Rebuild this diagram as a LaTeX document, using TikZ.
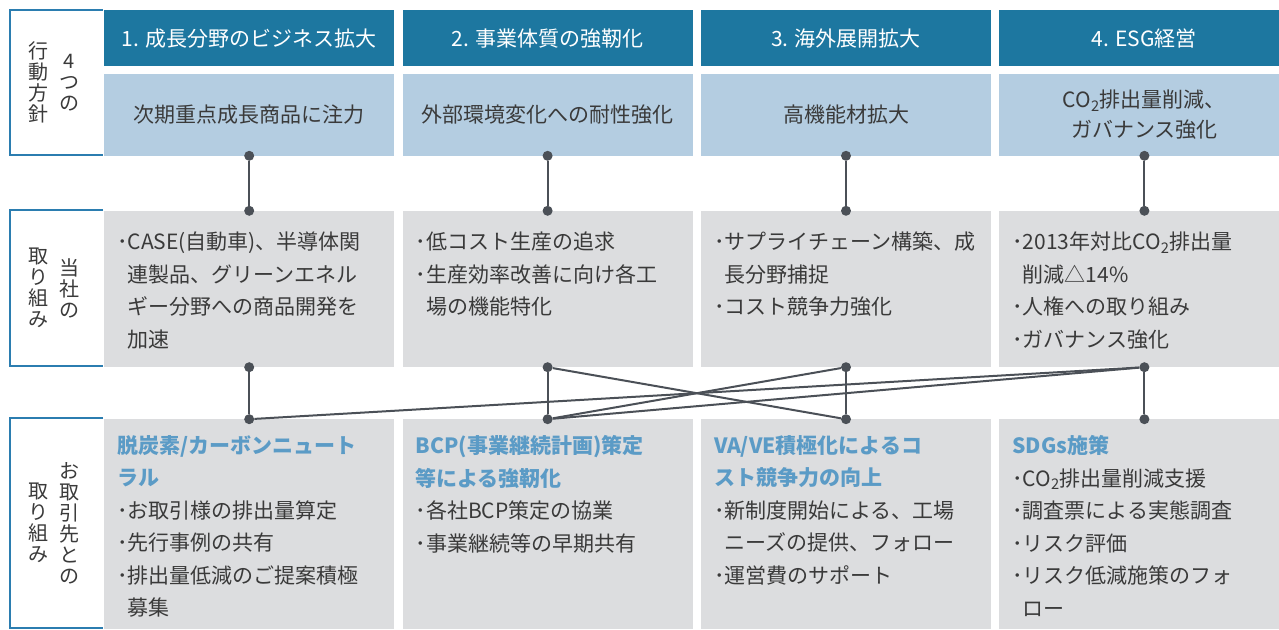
\documentclass[tikz,border=0pt]{standalone}
\usepackage{fontspec}
\setmainfont{Noto Sans CJK JP}
\usepackage{xcolor}
\usetikzlibrary{positioning}

\definecolor{headblue}{HTML}{1D77A0}
\definecolor{paleblue}{HTML}{B4CDE1}
\definecolor{panelgray}{HTML}{DCDDDF}
\definecolor{tagblue}{HTML}{2B7DB0}
\definecolor{titleblue}{HTML}{5B9BC6}
\definecolor{linkgray}{HTML}{4B5057}
\definecolor{inkgray}{HTML}{3A3A3A}

\newcommand{\bul}{\makebox[10.5bp][l]{･}}
\newcommand{\cont}{\hspace*{10.5bp}}
\newcommand{\goal}[1]{{\bfseries\color{titleblue}#1}}

\begin{document}
\begin{tikzpicture}[x=1bp, y=-1bp,
    node distance=7bp and 8bp,
    head/.style={fill=headblue, text=white, minimum width=290bp, minimum height=56bp, inner sep=0pt, font=\fontsize{21bp}{25bp}\selectfont},
    policy/.style={fill=paleblue, text=inkgray, minimum width=290bp, minimum height=82bp, inner sep=0pt, align=center, font=\fontsize{21bp}{30bp}\selectfont},
    plan/.style={fill=panelgray, minimum width=290bp, minimum height=156bp, inner sep=0pt},
    partner/.style={fill=panelgray, minimum width=290bp, minimum height=210bp, inner sep=0pt},
    body/.style={anchor=north west, inner sep=0pt, align=left, text=inkgray, font=\fontsize{21bp}{32.5bp}\selectfont},
    tag/.style={minimum width=93bp, inner sep=0pt, anchor=north east},
    tagline/.style={draw=tagblue, line width=2bp},
    vtext/.style={inner sep=0pt, align=center, text=inkgray, font=\fontsize{20bp}{21bp}\selectfont},
    dot/.style={circle, fill=linkgray, inner sep=0pt, minimum size=10bp},
    link/.style={draw=linkgray, line width=2bp}
  ]
  \fill[white] (0,0) rectangle (1279,630);
  \useasboundingbox (0,0) rectangle (1279,630);

  % row labels
  \node[tag, minimum height=145bp] (t1) at (103,10) {};
  \node[tag, minimum height=156bp] (t2) at (103,210) {};
  \node[tag, minimum height=210bp] (t3) at (103,418) {};
  \draw[tagline] (t1.north east) -- (t1.north west) -- (t1.south west) -- (t1.south east);
  \draw[tagline] (t2.north east) -- (t2.north west) -- (t2.south west) -- (t2.south east);
  \draw[tagline] (t3.north east) -- (t3.north west) -- (t3.south west) -- (t3.south east);
  \node[vtext] (t1a) at ([xshift=13bp]t1.center) {4\\つ\\の};
  \node[vtext] (t1b) at ([xshift=-18bp]t1.center) {行\\動\\方\\針};
  \node[vtext] (t2a) at ([xshift=13bp]t2.center) {当\\社\\の};
  \node[vtext] (t2b) at ([xshift=-18bp]t2.center) {取\\り\\組\\み};
  \node[vtext] (t3a) at ([xshift=13bp]t3.center) {お\\取\\引\\先\\と\\の};
  \node[vtext] (t3b) at ([xshift=-18bp]t3.center) {取\\り\\組\\み};

  % four policies
  \node[head, anchor=north west] (h1) at (104,10) {1. 成長分野のビジネス拡大};
  \node[head, right=of h1] (h2) {2. 事業体質の強靭化};
  \node[head, right=of h2] (h3) {3. 海外展開拡大};
  \node[head, right=of h3] (h4) {4. ESG経営};
  \node[policy, below=of h1] (p1) {次期重点成長商品に注力};
  \node[policy, below=of h2] (p2) {外部環境変化への耐性強化};
  \node[policy, below=of h3] (p3) {高機能材拡大};
  \node[policy, below=of h4] (p4) {CO\textsubscript{2}排出量削減、\\ガバナンス強化};

  % own measures
  \node[plan, below=55bp of p1] (m1) {};
  \node[plan, below=55bp of p2] (m2) {};
  \node[plan, below=55bp of p3] (m3) {};
  \node[plan, below=55bp of p4] (m4) {};
  \node[body] (m1t) at ([xshift=13bp,yshift=-21bp]m1.north west) {\bul CASE(自動車)、半導体関\\\cont 連製品、グリーンエネル\\\cont ギー分野への商品開発を\\\cont 加速};
  \node[body] (m2t) at ([xshift=13bp,yshift=-21bp]m2.north west) {\bul 低コスト生産の追求\\\bul 生産効率改善に向け各工\\\cont 場の機能特化};
  \node[body] (m3t) at ([xshift=13bp,yshift=-21bp]m3.north west) {\bul サプライチェーン構築、成\\\cont 長分野捕捉\\\bul コスト競争力強化};
  \node[body] (m4t) at ([xshift=13bp,yshift=-21bp]m4.north west) {\bul 2013年対比CO\textsubscript{2}排出量\\\cont 削減△14\%\\\bul 人権への取り組み\\\bul ガバナンス強化};

  % measures with partners
  \node[partner, below=52bp of m1] (s1) {};
  \node[partner, below=52bp of m2] (s2) {};
  \node[partner, below=52bp of m3] (s3) {};
  \node[partner, below=52bp of m4] (s4) {};
  \node[body] (s1t) at ([xshift=13bp,yshift=-16bp]s1.north west) {\goal{脱炭素/カーボンニュート}\\\goal{ラル}\\\bul お取引様の排出量算定\\\bul 先行事例の共有\\\bul 排出量低減のご提案積極\\\cont 募集};
  \node[body] (s2t) at ([xshift=13bp,yshift=-16bp]s2.north west) {\goal{BCP(事業継続計画)策定}\\\goal{等による強靭化}\\\bul 各社BCP策定の協業\\\bul 事業継続等の早期共有};
  \node[body] (s3t) at ([xshift=13bp,yshift=-16bp]s3.north west) {\goal{VA/VE積極化によるコ}\\\goal{スト競争力の向上}\\\bul 新制度開始による、工場\\\cont ニーズの提供、フォロー\\\bul 運営費のサポート};
  \node[body] (s4t) at ([xshift=13bp,yshift=-16bp]s4.north west) {\goal{SDGs施策}\\\bul CO\textsubscript{2}排出量削減支援\\\bul 調査票による実態調査\\\bul リスク評価\\\bul リスク低減施策のフォ\\\cont ロー};

  % joints
  \node[dot] (a1) at (p1.south) {}; \node[dot] (a2) at (p2.south) {}; \node[dot] (a3) at (p3.south) {}; \node[dot] (a4) at (p4.south) {};
  \node[dot] (b1) at (m1.north) {}; \node[dot] (b2) at (m2.north) {}; \node[dot] (b3) at (m3.north) {}; \node[dot] (b4) at (m4.north) {};
  \node[dot] (c1) at (m1.south) {}; \node[dot] (c2) at (m2.south) {}; \node[dot] (c3) at (m3.south) {}; \node[dot] (c4) at (m4.south) {};
  \node[dot] (d1) at (s1.north) {}; \node[dot] (d2) at (s2.north) {}; \node[dot] (d3) at (s3.north) {}; \node[dot] (d4) at (s4.north) {};

  \draw[link] (a1) -- (b1); \draw[link] (a2) -- (b2); \draw[link] (a3) -- (b3); \draw[link] (a4) -- (b4);
  \draw[link] (c1) -- (d1); \draw[link] (c2) -- (d2); \draw[link] (c3) -- (d3); \draw[link] (c4) -- (d4);
  \draw[link] (c2) -- (d3); \draw[link] (c3) -- (d2); \draw[link] (c4) -- (d1); \draw[link] (c4) -- (d2);
\end{tikzpicture}
\end{document}
